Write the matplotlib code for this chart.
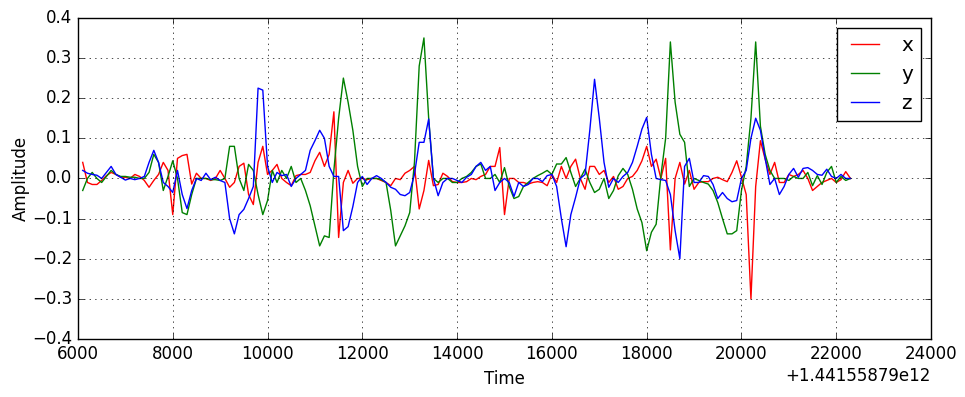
import matplotlib
matplotlib.use("Agg")
import matplotlib.pyplot as plt
import numpy as np
from matplotlib.ticker import ScalarFormatter

plt.style.use("classic")

# time stamps (ms), shown relative to this offset
t0 = 1441558790000
t_rel = np.arange(6100, 22400, 100)

# x axis acceleration
x_vals = [
    0.04, -0.01, -0.015, -0.015, -0.005, 0.007, 0.015, 0.01, 0.003, 0.003,
    0.0, 0.01, 0.005, -0.005, -0.022, -0.005, 0.01, 0.04, 0.02, -0.09,
    0.05, 0.057, 0.06, -0.014, 0.013, 0.0, 0.0, -0.005, 0.0, 0.02,
    0.0, -0.022, -0.01, 0.03, 0.038, -0.04, -0.065, 0.04, 0.08, 0.01,
    0.02, 0.035, 0.0, -0.01, -0.018, 0.007, 0.01, 0.01, 0.015, 0.044,
    0.065, 0.03, 0.06, 0.166, -0.147, -0.01, 0.02, -0.012, 0.0, 0.0,
    -0.003, 0.0, 0.0, -0.005, -0.01, -0.018, 0.0, -0.003, 0.013, 0.02,
    0.03, -0.076, -0.03, 0.045, -0.018, -0.015, 0.013, 0.005, -0.008, -0.01,
    -0.01, -0.008, 0.0, -0.003, 0.005, 0.01, 0.03, 0.03, 0.077, -0.09,
    0.0, 0.0, -0.01, -0.01, -0.014, -0.01, -0.008, -0.01, -0.018, 0.01,
    -0.01, 0.03, 0.0, 0.03, 0.048, 0.0, -0.027, 0.03, 0.03, 0.01,
    0.02, -0.01, 0.005, -0.027, -0.02, 0.0, 0.005, 0.02, 0.044, 0.08,
    0.03, 0.048, 0.0, 0.05, -0.178, 0.0, 0.04, -0.014, 0.02, -0.027,
    -0.01, -0.008, -0.008, 0.0, 0.003, -0.003, -0.008, 0.015, 0.044, 0.003,
    -0.04, -0.3, -0.02, 0.094, 0.048, 0.01, 0.04, -0.01, -0.01, 0.01,
    0.005, 0.01, 0.02, 0.0, -0.03, -0.02, -0.01, -0.005, 0.0, -0.01,
    -0.003, 0.017, 0.0,
]

# y axis acceleration
y_vals = [
    -0.03, 0.0, 0.015, 0.0, -0.01, 0.005, 0.02, 0.01, 0.005, 0.005,
    0.003, 0.003, 0.0, 0.0, 0.015, 0.06, 0.04, -0.03, 0.005, 0.044,
    0.0, -0.085, -0.09, -0.04, 0.0, 0.0, 0.0, -0.003, -0.003, -0.005,
    0.0, 0.08, 0.08, 0.0, -0.03, 0.035, 0.02, -0.04, -0.09, -0.055,
    0.02, -0.01, 0.02, 0.0, 0.03, -0.01, 0.0, -0.03, -0.068, -0.118,
    -0.168, -0.143, -0.147, 0.02, 0.15, 0.25, 0.19, 0.12, 0.03, -0.02,
    0.0, 0.0, 0.0, -0.003, -0.01, -0.08, -0.168, -0.143, -0.118, -0.085,
    0.04, 0.28, 0.35, 0.15, 0.0, -0.01, 0.0, 0.0, -0.01, -0.01,
    0.0, 0.005, 0.015, 0.03, 0.036, 0.0, 0.0, 0.01, -0.01, 0.027,
    -0.02, -0.05, -0.045, -0.02, -0.01, 0.0, 0.007, 0.013, 0.02, 0.01,
    0.036, 0.036, 0.052, 0.015, -0.02, 0.0, 0.023, -0.01, -0.035, -0.027,
    0.0, -0.05, -0.03, 0.007, 0.025, 0.01, -0.027, -0.076, -0.11, -0.18,
    -0.134, -0.114, 0.007, 0.1, 0.34, 0.19, 0.11, 0.09, -0.02, 0.0,
    -0.005, -0.01, -0.014, -0.03, -0.06, -0.1, -0.138, -0.138, -0.13, -0.03,
    0.03, 0.15, 0.34, 0.13, 0.06, 0.02, 0.0, 0.0, 0.0, -0.005,
    0.005, 0.0, 0.0, 0.015, -0.018, 0.007, -0.015, 0.015, 0.03, -0.01,
    0.005, -0.005, 0.0,
]

# z axis acceleration
z_vals = [
    0.02, 0.013, 0.01, 0.008, 0.0, 0.015, 0.03, 0.01, 0.003, -0.004,
    0.0, -0.003, 0.0, 0.005, 0.04, 0.07, 0.04, -0.01, -0.02, -0.035,
    0.02, -0.04, -0.075, -0.03, 0.0, -0.005, 0.013, -0.003, 0.003, -0.005,
    -0.01, -0.1, -0.138, -0.09, -0.077, -0.05, -0.02, 0.225, 0.22, 0.03,
    -0.01, 0.015, 0.007, 0.01, -0.02, 0.0, 0.01, 0.02, 0.07, 0.094,
    0.12, 0.1, 0.03, 0.005, 0.005, -0.13, -0.12, -0.07, -0.01, 0.005,
    -0.015, 0.0, 0.007, 0.0, -0.01, -0.022, -0.027, -0.04, -0.043, -0.035,
    0.01, 0.09, 0.09, 0.148, 0.0, -0.043, -0.01, 0.0, 0.0, -0.005,
    -0.01, 0.003, 0.01, 0.03, 0.04, 0.02, 0.03, -0.03, -0.01, 0.0,
    -0.01, -0.045, -0.01, -0.02, -0.015, 0.0, 0.0, -0.008, 0.007, 0.01,
    -0.02, -0.1, -0.17, -0.09, -0.047, 0.0, 0.01, 0.12, 0.247, 0.15,
    0.04, -0.022, 0.0, -0.01, 0.005, 0.015, 0.04, 0.08, 0.123, 0.152,
    0.06, 0.0, -0.003, -0.005, -0.04, -0.13, -0.2, 0.03, 0.05, -0.01,
    -0.01, 0.007, 0.005, -0.015, -0.05, -0.035, -0.05, -0.058, -0.055, 0.0,
    0.02, 0.1, 0.15, 0.12, 0.05, -0.015, 0.0, -0.04, -0.02, 0.01,
    0.025, 0.003, 0.025, 0.027, 0.02, 0.01, 0.008, 0.023, 0.005, 0.0,
    0.01, 0.0, 0.0,
]

time = t0 + t_rel

fig = plt.figure(figsize=(9.65, 3.97), dpi=100, facecolor="white")
ax = fig.add_axes([0.0808, 0.146, 0.884, 0.809])

ax.plot(time, x_vals, color="r", lw=1, label="x")
ax.plot(time, y_vals, color="g", lw=1, label="y")
ax.plot(time, z_vals, color="b", lw=1, label="z")

ax.set_xlim(t0 + 6000, t0 + 24000)
ax.set_ylim(-0.4, 0.4)
ax.set_xticks(t0 + np.arange(6000, 24001, 2000))
ax.set_yticks(np.arange(-0.4, 0.41, 0.1))
fmt = ScalarFormatter(useOffset=t0)
ax.xaxis.set_major_formatter(fmt)

ax.set_xlabel("Time")
ax.set_ylabel("Amplitude", labelpad=2)
ax.grid(True)
ax.legend(loc="upper right")

fig.savefig("out.png", dpi=100, facecolor="white")
